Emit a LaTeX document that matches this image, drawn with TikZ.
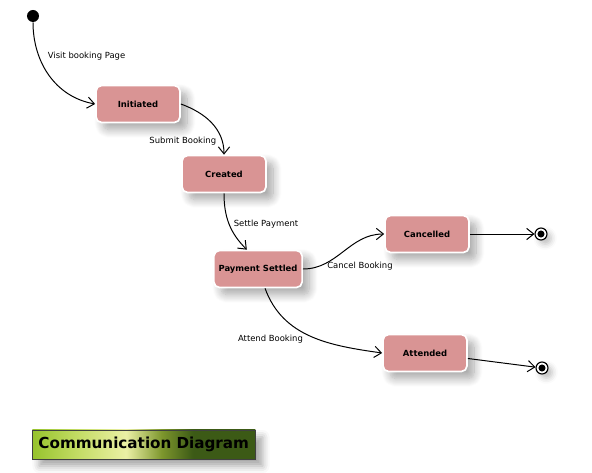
\documentclass[tikz,border=0pt]{standalone}
\usepackage{fontspec}
\setmainfont{DejaVu Sans}
\usetikzlibrary{positioning,arrows.meta,shadows.blur}
\definecolor{statefill}{RGB}{217,148,148}
\definecolor{barlime}{RGB}{150,195,45}
\definecolor{barlight}{RGB}{195,220,100}
\definecolor{barpale}{RGB}{235,240,165}
\definecolor{barolive}{RGB}{125,150,45}
\definecolor{bardark}{RGB}{60,90,22}
\pgfdeclarehorizontalshading{titlebar}{100bp}{color(0bp)=(barlime); color(25bp)=(barlime); color(35bp)=(barlight); color(46bp)=(barpale); color(54bp)=(barolive); color(61bp)=(bardark); color(75bp)=(bardark); color(100bp)=(bardark)}

\begin{document}
\begin{tikzpicture}[x=0.025cm, y=-0.025cm,
    state/.style={draw=white, line width=1.2pt, fill=statefill, rounded corners=4pt,
      minimum width=2.1cm, minimum height=0.925cm,
      font=\fontsize{6}{7}\selectfont\bfseries,
      blur shadow={shadow xshift=5pt, shadow yshift=-5pt, shadow blur radius=6pt, shadow blur steps=10, shadow opacity=35}},
    initial/.style={circle, fill=black, minimum size=0.3cm, inner sep=0pt},
    final/.style={circle, draw=black, line width=0.8pt, fill=white, minimum size=0.3cm, inner sep=0pt,
      path picture={\fill[black] (path picture bounding box.center) circle (2.5pt);},
      blur shadow={shadow xshift=3pt, shadow yshift=-3pt, shadow blur radius=4pt, shadow opacity=25}},
    trans/.style={-{Straight Barb[length=5pt,width=8pt]}, line width=0.7pt},
    lbl/.style={font=\fontsize{6}{7}\selectfont, inner sep=1pt}]
        \useasboundingbox (0,0) rectangle (592,473);

        % Start and the booking states
        \node (start) [initial] at (33,16) {};
        \node (init) [state] at (138,104) {Initiated};
        \node (crea) [state] at (224,174) {Created};
        \node (paid) [state] at (258,269) {Payment Settled};
        \node (canc) [state] at (427,234) {Cancelled};
        \node (att) [state] at (425,353) {Attended};

        % End points
        \node (end1) [final] at (541,234) {};
        \node (end2) [final] at (542,368) {};

        % Transitions
        \draw[trans] (start) to[out=-90, in=170]
          node[lbl, pos=0.3, right=5pt] {Visit booking Page} (init.west);
        \draw[trans] (init.east) to[out=-20, in=90]
          node[lbl, pos=0.82, left=3pt] {Submit Booking} (crea.north);
        \draw[trans] (crea.south) to[out=-90, in=135]
          node[lbl, pos=0.5, right=2pt] {Settle Payment} (paid.120);
        \draw[trans] (paid.east) to[out=0, in=180]
          node[lbl, pos=0.25, anchor=west, yshift=-2pt] {Cancel Booking} (canc.west);
        \draw[trans] (paid.290) to[out=-70, in=172]
          node[lbl, pos=0.45, anchor=north east] {Attend Booking} (att.west);
        \draw[trans] (canc) -- (end1);
        \draw[trans] (att) -- (end2);

        % Title bar
        \node (title) [anchor=west, shading=titlebar, draw=black!75, line width=0.6pt,
          minimum height=0.725cm, inner xsep=0.15cm, text width=5.275cm, align=left,
          font=\fontsize{10.8}{12}\selectfont\bfseries,
          blur shadow={shadow xshift=5pt, shadow yshift=-5pt, shadow blur radius=5pt, shadow opacity=35}]
          at (32,444.5) {Communication Diagram};
      \end{tikzpicture}
\end{document}
